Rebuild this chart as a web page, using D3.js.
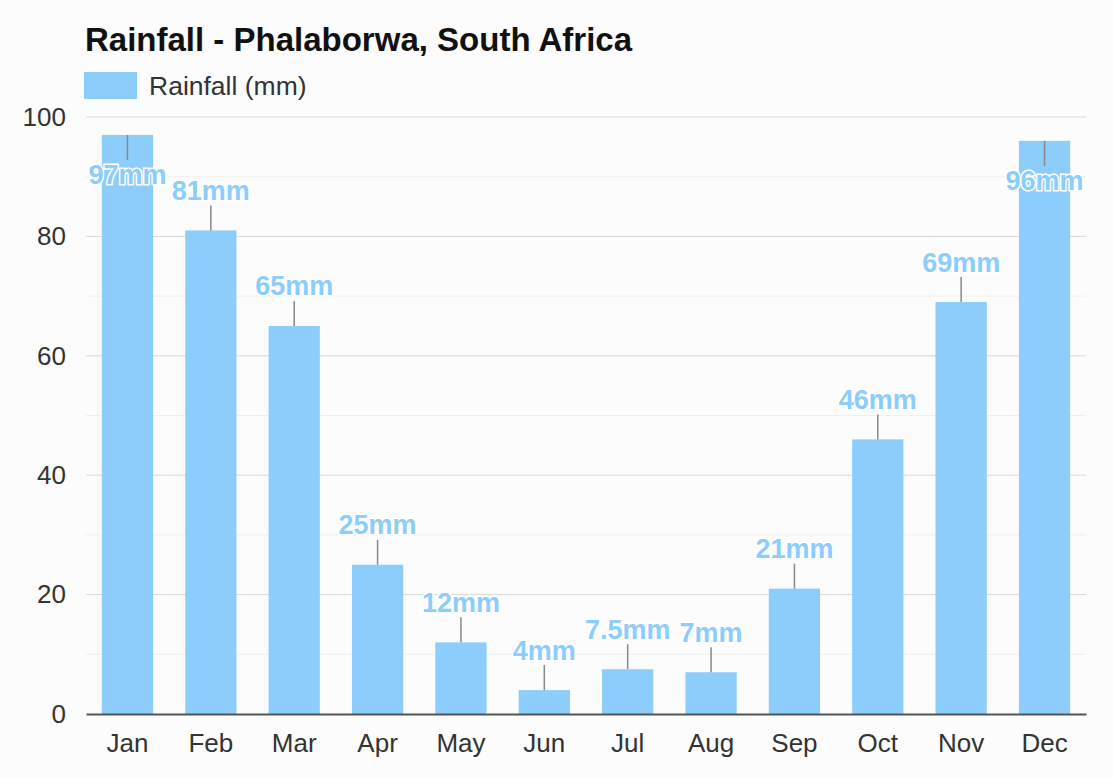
<!DOCTYPE html>
<html>
<head>
<meta charset="utf-8">
<script src="https://cdn.jsdelivr.net/npm/d3@7"></script>
<style>
body{margin:0;background:#fcfcfc;font-family:"Liberation Sans",Arial,sans-serif}
</style>
</head>
<body>
<div id="chart"></div>
<script>
var months = ["Jan","Feb","Mar","Apr","May","Jun","Jul","Aug","Sep","Oct","Nov","Dec"]
var rainfall = [97,81,65,25,12,4,7.5,7,21,46,69,96]
var labels = ["97mm","81mm","65mm","25mm","12mm","4mm","7.5mm","7mm","21mm","46mm","69mm","96mm"]
var yTicks = [0,20,40,60,80,100]
var minorTicks = [10,30,50,70,90]

var w = 1113
var h = 778
var plotLeft = 86, plotRight = 1086, plotTop = 117, plotBottom = 714
var barColor = "#8ccdfb"

var svg = d3.select("#chart").append("svg").attr("width",w).attr("height",h)
svg.append("rect").attr("width",w).attr("height",h).attr("fill","#fcfcfc")

var x = d3.scaleBand().domain(months).range([plotLeft,plotRight]).paddingInner(0.385).paddingOuter(0.19)
var y = d3.scaleLinear().domain([0,100]).range([plotBottom,plotTop])

// title + legend
svg.append("text").text("Rainfall - Phalaborwa, South Africa")
	.attr("x",85).attr("y",51)
	.style("font-weight",700).style("font-size","33px").attr("fill","#111")
svg.append("rect").attr("x",84).attr("y",72).attr("width",53).attr("height",27).attr("fill",barColor)
svg.append("text").text("Rainfall (mm)").attr("x",149).attr("y",95)
	.style("font-size","26.5px").attr("fill","#333")

// grid
svg.selectAll(".minor").data(minorTicks).enter().append("line")
	.attr("x1",plotLeft).attr("x2",plotRight)
	.attr("y1",function(d){return y(d)}).attr("y2",function(d){return y(d)})
	.attr("stroke","#efefef").attr("stroke-width",1)
svg.selectAll(".major").data(yTicks.slice(1)).enter().append("line")
	.attr("x1",plotLeft).attr("x2",plotRight)
	.attr("y1",function(d){return y(d)}).attr("y2",function(d){return y(d)})
	.attr("stroke","#d8d8d8").attr("stroke-width",1)

// y axis
var yAxis = svg.append("g").attr("transform","translate("+plotLeft+",0)")
	.call(d3.axisLeft(y).tickValues(yTicks).tickSize(0).tickPadding(20))
yAxis.select(".domain").remove()
yAxis.selectAll("text").style("font-size","26px").attr("fill","#333").style("font-family","Liberation Sans, Arial, sans-serif")

// bars
svg.selectAll(".bar").data(rainfall).enter().append("rect")
	.attr("x",function(d,i){return x(months[i])})
	.attr("width",x.bandwidth())
	.attr("y",function(d){return y(d)})
	.attr("height",function(d){return plotBottom-y(d)})
	.attr("fill",barColor)

// x axis
var xAxis = svg.append("g").attr("transform","translate(0,"+plotBottom+")")
	.call(d3.axisBottom(x).tickSize(0).tickPadding(20))
xAxis.select(".domain").attr("stroke","#555").attr("stroke-width",2)
xAxis.selectAll("text").style("font-size","26px").attr("fill","#333").style("font-family","Liberation Sans, Arial, sans-serif")

// value labels with leader lines
function flipped(d){ return y(d)-38 < plotTop+10 }
svg.selectAll(".leader").data(rainfall).enter().append("line")
	.attr("x1",function(d,i){return x(months[i])+x.bandwidth()/2})
	.attr("x2",function(d,i){return x(months[i])+x.bandwidth()/2})
	.attr("y1",function(d){return y(d)})
	.attr("y2",function(d){return flipped(d) ? y(d)+25 : y(d)-25})
	.attr("stroke","#888").attr("stroke-width",1.5)

svg.selectAll(".vlabel").data(rainfall).enter().append("text")
	.text(function(d,i){return labels[i]})
	.attr("x",function(d,i){return x(months[i])+x.bandwidth()/2})
	.attr("y",function(d){return flipped(d) ? y(d)+40 : y(d)-40})
	.attr("dy","0.35em")
	.attr("text-anchor","middle")
	.style("font-size","27px").style("font-weight",700)
	.attr("fill",barColor)
	.attr("stroke","#fff").attr("stroke-width",3).attr("paint-order","stroke")
</script>
</body>
</html>
